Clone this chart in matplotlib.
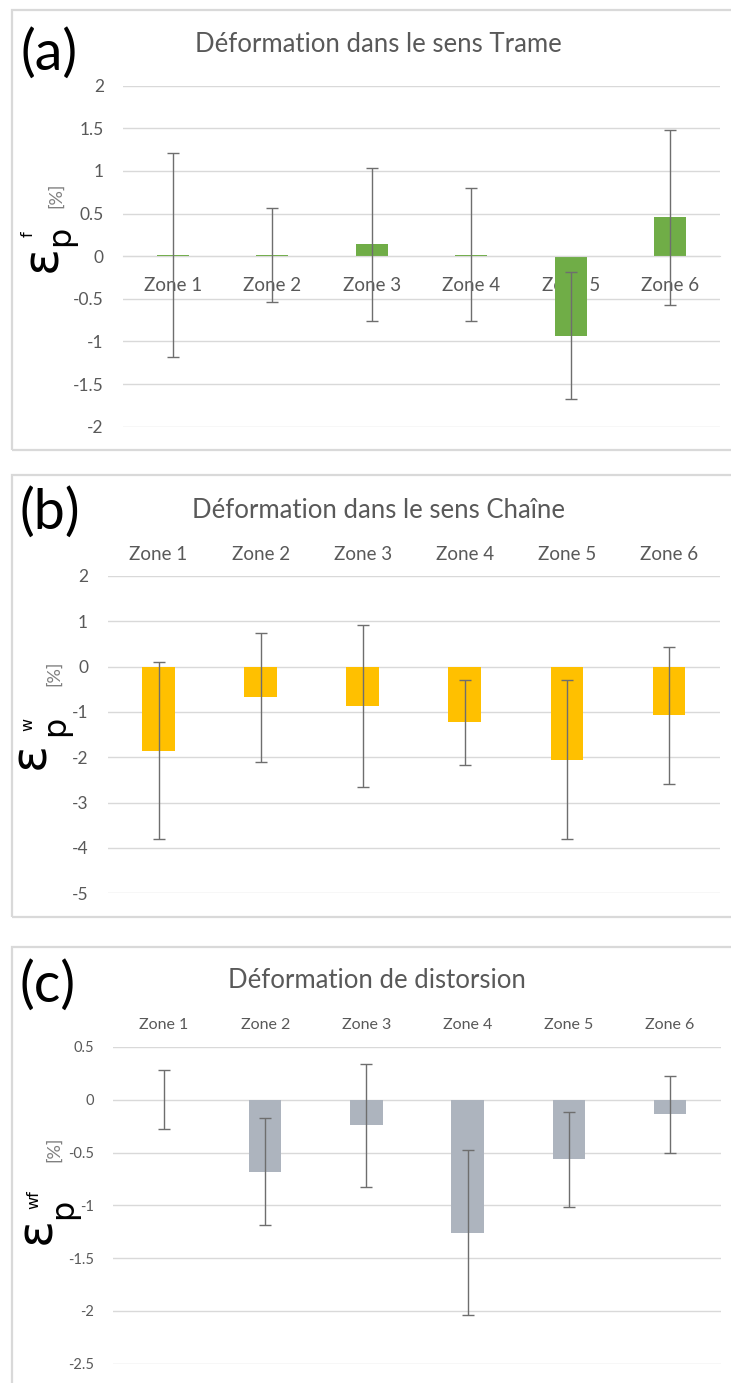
import matplotlib
matplotlib.use("Agg")
import matplotlib.pyplot as plt
from matplotlib.patches import Rectangle

plt.rcParams['font.family'] = ['Lato', 'DejaVu Sans']
plt.rcParams['axes.unicode_minus'] = False

# data
zones = ['Zone 1', 'Zone 2', 'Zone 3', 'Zone 4', 'Zone 5', 'Zone 6']

trame = [0.015, 0.015, 0.14, 0.015, -0.935, 0.455]
trame_err = [1.2, 0.555, 0.9, 0.78, 0.745, 1.03]
trame_ticks = [2, 1.5, 1, 0.5, 0, -0.5, -1, -1.5, -2]

chaine = [-1.85, -0.68, -0.87, -1.23, -2.05, -1.07]
chaine_err = [1.96, 1.43, 1.78, 0.945, 1.745, 1.51]
chaine_ticks = [2, 1, 0, -1, -2, -3, -4, -5]

distor = [0.0, -0.68, -0.243, -1.26, -0.565, -0.139]
distor_err = [0.278, 0.51, 0.58, 0.78, 0.45, 0.366]
distor_ticks = [0.5, 0, -0.5, -1, -1.5, -2, -2.5]

W, H = 731, 1383
fig = plt.figure(figsize=(W / 100, H / 100), dpi=100)

GRID = '#d9d9d9'
TXT = '#595959'
ERR = '#6e6e6e'


def fx(x):
    return x / W


def fy(y):
    return 1 - y / H


def make_axes(left, right, top, bottom):
    return fig.add_axes([fx(left), fy(bottom), (right - left) / W, (bottom - top) / H])


def frame(top, bottom):
    fig.add_artist(Rectangle((fx(12), fy(bottom)), 1.2, (bottom - top) / H,
                             transform=fig.transFigure, fill=False,
                             edgecolor=GRID, lw=1.6, clip_on=False))


def bar_panel(ax, vals, errs, ticks, color, tsize, xsize):
    x = range(len(zones))
    ax.bar(x, vals, width=0.32, color=color, zorder=2)
    ax.errorbar(x, vals, yerr=errs, fmt='none', ecolor=ERR, elinewidth=1,
                capsize=4, capthick=1, zorder=3)
    ax.set_xlim(-0.5, len(zones) - 0.5)
    ax.set_ylim(min(ticks), max(ticks))
    ax.set_yticks(ticks)
    ax.set_yticklabels([f'{t:g}' for t in ticks], color=TXT, fontsize=tsize)
    ax.set_xticks(list(x))
    ax.set_xticklabels(zones, color=TXT, fontsize=xsize)
    ax.yaxis.grid(True, color=GRID, lw=1)
    ax.set_axisbelow(True)
    ax.tick_params(axis='both', length=0)


def vtext(x, y, s, size, color='black', family='DejaVu Sans'):
    # vertical text anchored on its baseline (x) and centred along y
    fig.text(fx(x), fy(y), s, rotation=90, rotation_mode='anchor', ha='center',
             va='baseline', fontsize=size, family=family, color=color)


def ylabel(eps, p, sup, sup_txt, pct):
    vtext(*eps, 'ε', 36)
    vtext(*p, 'p', 23)
    vtext(*sup, sup_txt, 11.5)
    vtext(*pct, '[%]', 13, color='#7f7f7f', family=['Lato', 'DejaVu Sans'])


def hide_spines(ax):
    for s in ax.spines.values():
        s.set_visible(False)


# (a) weft direction
frame(10, 450)
ax1 = make_axes(123.2, 720, 85.7, 426.7)
hide_spines(ax1)
ax1.spines['bottom'].set_visible(True)
ax1.spines['bottom'].set_position(('data', 0))
ax1.spines['bottom'].set_color(GRID)
bar_panel(ax1, trame, trame_err, trame_ticks, '#70ad47', 12.5, 13.5)
ax1.tick_params(axis='x', pad=15)
ax1.tick_params(axis='y', pad=14)
fig.text(fx(378), fy(44), 'Déformation dans le sens Trame', ha='center', va='center',
         fontsize=18.5, color=TXT)
fig.text(fx(49), fy(54), '(a)', ha='center', va='center', fontsize=40, color='black')
ylabel((56, 258), (69, 236), (33, 234), 'f', (61, 195))

# (b) warp direction
frame(475, 917)
ax2 = make_axes(107.5, 720, 576, 893.3)
hide_spines(ax2)
bar_panel(ax2, chaine, chaine_err, chaine_ticks, '#ffc000', 12.5, 13.5)
ax2.xaxis.tick_top()
ax2.tick_params(axis='x', pad=9)
ax2.tick_params(axis='y', pad=14)
fig.text(fx(378), fy(511), 'Déformation dans le sens Chaîne', ha='center', va='center',
         fontsize=18.5, color=TXT)
fig.text(fx(50), fy(513), '(b)', ha='center', va='center', fontsize=40, color='black')
ylabel((44, 756), (64, 726), (32, 724), 'w', (59, 673))

# (c) shear distortion
frame(947, 1500)
ax3 = make_axes(113.4, 720.6, 1047, 1363.7)
hide_spines(ax3)
bar_panel(ax3, distor, distor_err, distor_ticks, '#adb4be', 10.5, 11.5)
ax3.xaxis.tick_top()
ax3.tick_params(axis='x', pad=11)
ax3.tick_params(axis='y', pad=14)
fig.text(fx(377), fy(981), 'Déformation de distorsion', ha='center', va='center',
         fontsize=18.5, color=TXT)
fig.text(fx(48), fy(986), '(c)', ha='center', va='center', fontsize=40, color='black')
ylabel((50, 1231), (72, 1209), (38, 1200), 'wf', (59, 1149))

fig.savefig('out.png', dpi=100)
